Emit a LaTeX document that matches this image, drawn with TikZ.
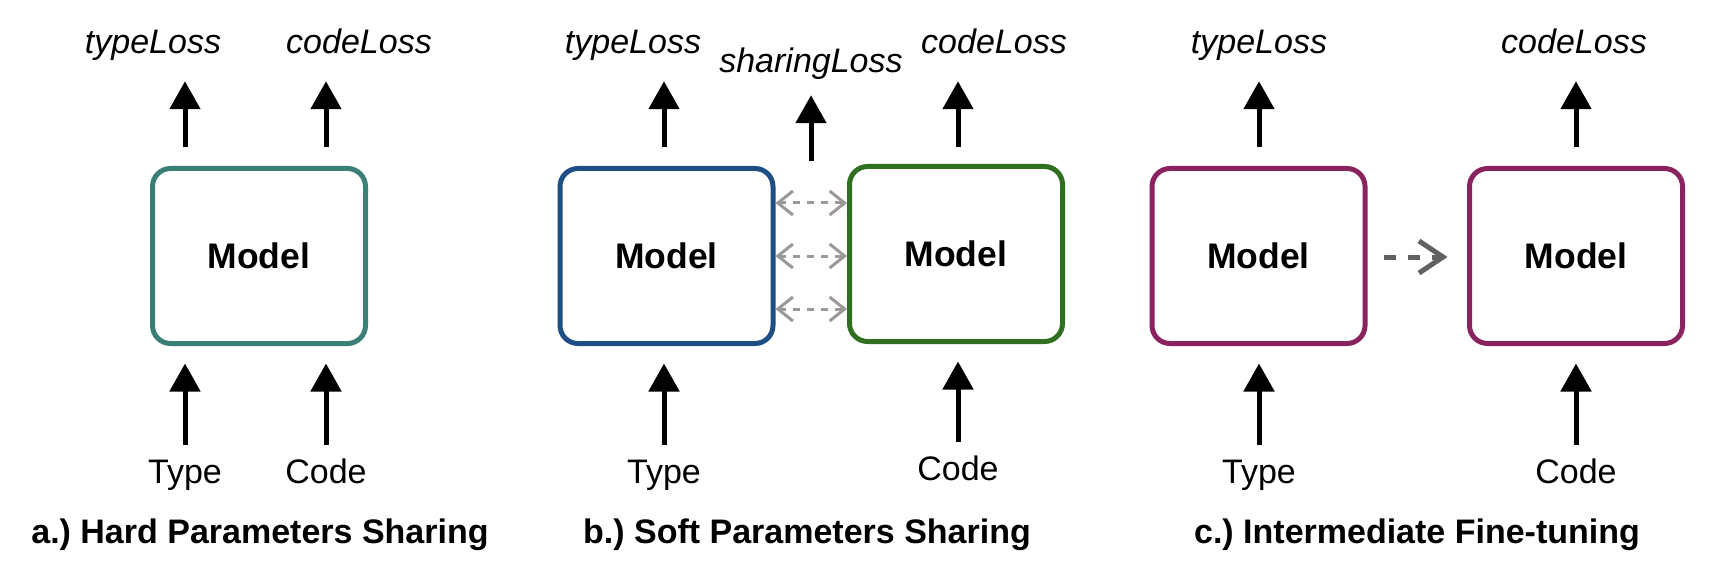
\documentclass[tikz,border=0pt]{standalone}
\usepackage{fontspec}
\setmainfont{Liberation Sans}
\usepackage{xcolor}
\usetikzlibrary{arrows.meta, positioning, calc}
\frenchspacing

\definecolor{hardteal}{HTML}{3A7F78}
\definecolor{softblue}{HTML}{1F4E85}
\definecolor{softgreen}{HTML}{2F6F1F}
\definecolor{ftpurple}{HTML}{8B2260}

\begin{document}
\begin{tikzpicture}[
    x=1pt, y=1pt,
    model/.style={draw, line width=5pt, rounded corners=18pt, minimum width=213pt, minimum height=175pt, font=\fontsize{35.5}{42}\selectfont\bfseries},
    lbl/.style={inner sep=0pt, text height=24pt, text depth=7pt, font=\fontsize{34}{40}\selectfont},
    loss/.style={lbl, font=\fontsize{34}{40}\selectfont\itshape},
    title/.style={inner sep=0pt, font=\fontsize{34}{40}\selectfont\bfseries},
    up/.style={line width=5pt, -{Triangle[width=30pt,length=28pt]}},
    sync/.style={draw=black!40, line width=3pt, dash pattern=on 7pt off 7pt, {Straight Barb[length=15pt,width=24pt]}-{Straight Barb[length=15pt,width=24pt]}},
    transfer/.style={draw=black!62, line width=5pt, dash pattern=on 12pt off 12pt, -{Straight Barb[length=24pt,width=32pt]}},
]
\useasboundingbox (0,0) rectangle (1716,-564);

% Models
\node[model, draw=hardteal] (hard) at (259,-256) {Model};
\node[model, draw=softblue] (softT) at (666.5,-256) {Model};
\node[model, draw=softgreen] (softC) at (956,-254) {Model};
\node[model, draw=ftpurple] (ftT) at (1258.5,-256) {Model};
\node[model, draw=ftpurple] (ftC) at (1576,-256) {Model};

% Inputs
\node[lbl] (hardType) at (185,-474.5) {Type};
\node[lbl] (hardCode) at (326,-474.5) {Code};
\node[lbl] (softType) at (664,-474.5) {Type};
\node[lbl] (softCode) at (958,-471.5) {Code};
\node[lbl] (ftType) at (1259,-474.5) {Type};
\node[lbl] (ftCode) at (1576,-474.5) {Code};

% Losses
\node[loss] (hardTypeLoss) at (153,-45.5) {typeLoss};
\node[loss] (hardCodeLoss) at (359,-45.5) {codeLoss};
\node[loss] (softTypeLoss) at (633,-45.5) {typeLoss};
\node[loss] (sharingLoss) at (811,-64.5) {sharingLoss};
\node[loss] (softCodeLoss) at (994,-45.5) {codeLoss};
\node[loss] (ftTypeLoss) at (1259,-45.5) {typeLoss};
\node[loss] (ftCodeLoss) at (1574,-45.5) {codeLoss};

% Input arrows
\draw[up, shorten <=14pt, shorten >=17.5pt] (hardType.north) -- (hardType |- hard.south);
\draw[up, shorten <=14pt, shorten >=17.5pt] (hardCode.north) -- (hardCode |- hard.south);
\draw[up, shorten <=14pt, shorten >=17.5pt] (softType.north) -- (softType |- softT.south);
\draw[up, shorten <=13.5pt, shorten >=17.5pt] (softCode.north) -- (softCode |- softC.south);
\draw[up, shorten <=14pt, shorten >=17.5pt] (ftType.north) -- (ftType |- ftT.south);
\draw[up, shorten <=14pt, shorten >=17.5pt] (ftCode.north) -- (ftCode |- ftC.south);

% Loss arrows
\draw[up, shorten <=18.5pt, shorten >=20pt] (hardType |- hard.north) -- (hardType |- hardTypeLoss.south);
\draw[up, shorten <=18.5pt, shorten >=20pt] (hardCode |- hard.north) -- (hardCode |- hardCodeLoss.south);
\draw[up, shorten <=18.5pt, shorten >=20pt] (softType |- softT.north) -- (softType |- softTypeLoss.south);
\draw[up, shorten <=4.5pt, shorten >=15pt] (sharingLoss |- softT.north) -- (sharingLoss.south);
\draw[up, shorten <=16.5pt, shorten >=20pt] (softCode |- softC.north) -- (softCode |- softCodeLoss.south);
\draw[up, shorten <=18.5pt, shorten >=20pt] (ftType |- ftT.north) -- (ftType |- ftTypeLoss.south);
\draw[up, shorten <=18.5pt, shorten >=20pt] (ftCode |- ftC.north) -- (ftCode |- ftCodeLoss.south);

% Soft sharing links
\draw[sync] ([yshift=53pt]softT.east) -- ([yshift=53pt]softT.east -| softC.west);
\draw[sync] (softT.east) -- (softT.east -| softC.west);
\draw[sync] ([yshift=-53pt]softT.east) -- ([yshift=-53pt]softT.east -| softC.west);

% Fine-tuning transfer
\draw[transfer, shorten <=16pt, shorten >=19.5pt] ([yshift=-1pt]ftT.east) -- ([yshift=-1pt]ftT.east -| ftC.west);

% Titles
\node[title] (hardTitle) at (260,-534.5) {a.) Hard Parameters Sharing};
\node[title] (softTitle) at (807,-534.5) {b.) Soft Parameters Sharing};
\node[title] (ftTitle) at (1417,-534.5) {c.) Intermediate Fine-tuning};

\end{tikzpicture}
\end{document}
